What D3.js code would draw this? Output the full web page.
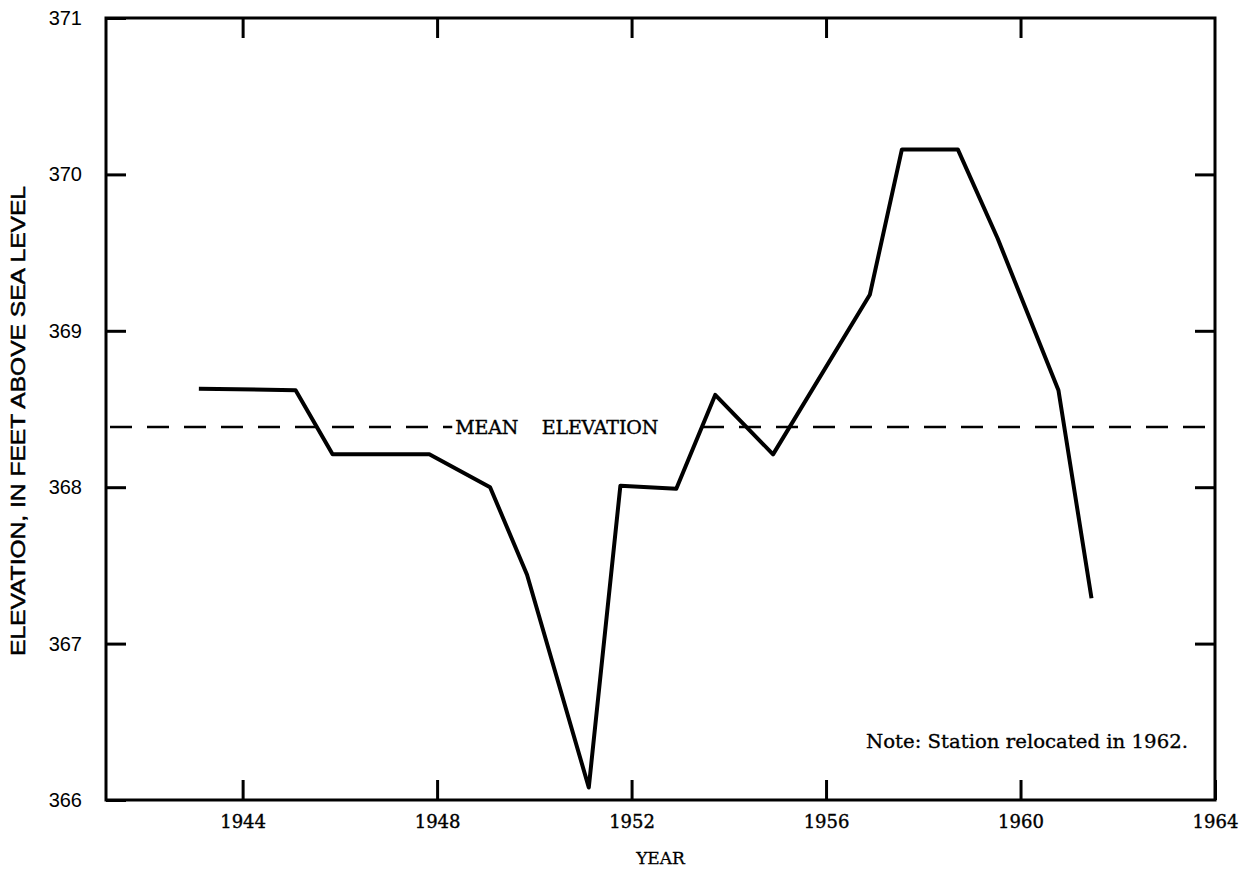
<!DOCTYPE html>
<html>
<head>
<meta charset="utf-8">
<script src="https://cdn.jsdelivr.net/npm/d3@7"></script>
<style>
  body { margin: 0; background: #fff; }
  .axis text { font-family: "DejaVu Serif", serif; fill: #000; }
  .axis path { display: none; }
  .axis line { stroke: #000; stroke-width: 3; }
</style>
</head>
<body>
<svg id="chart"></svg>
<script>
// values
const years = [1943.1, 1945.09, 1945.85, 1947.84, 1949.09, 1949.85, 1951.12, 1951.77,
               1952.92, 1953.72, 1954.91, 1956.9, 1957.56, 1958.71, 1959.53, 1960.78, 1961.46];
const elevations = [368.63, 368.62, 368.21, 368.21, 368.0, 367.44, 366.08, 368.01,
                    367.99, 368.59, 368.21, 369.23, 370.16, 370.16, 369.59, 368.62, 367.29];
const meanElevation = 368.385;
const xTicks = [1944, 1948, 1952, 1956, 1960, 1964];
const yTicks = [366, 367, 368, 369, 370, 371];

const data = years.map((y, i) => ({ year: y, elev: elevations[i] }));

const W = 1248, H = 874;
const margin = { top: 18, right: 33, bottom: 74, left: 106 };
const width = W - margin.left - margin.right;
const height = H - margin.top - margin.bottom;

const svg = d3.select('#chart').attr('width', W).attr('height', H);
const chart = svg.append('g').attr('transform', `translate(${margin.left},${margin.top})`);

const xScale = d3.scaleLinear().domain([1941.19, 1964]).range([0, width]);
const yScale = d3.scaleLinear().domain([366, 371]).range([height, 0]);

// inward ticks on all four sides
chart.append('g').attr('class', 'axis')
    .attr('transform', `translate(0,${height})`)
    .call(d3.axisBottom(xScale).tickValues(xTicks).tickFormat(d3.format('d'))
        .tickSizeInner(-20).tickSizeOuter(0).tickPadding(12))
    .selectAll('text').style('font-size', '18px').attr('dy', '0.9em')
        .attr('stroke', '#000').attr('stroke-width', 0.4);

chart.append('g').attr('class', 'axis')
    .call(d3.axisTop(xScale).tickValues(xTicks.slice(0, -1)).tickFormat('')
        .tickSizeInner(-20).tickSizeOuter(0));

chart.append('g').attr('class', 'axis')
    .call(d3.axisLeft(yScale).tickValues(yTicks).tickFormat(d3.format('d'))
        .tickSizeInner(-20).tickSizeOuter(0).tickPadding(24))
    .selectAll('text')
        .style('font-family', '"Liberation Sans", sans-serif')
        .style('font-size', '20px');

chart.append('g').attr('class', 'axis')
    .attr('transform', `translate(${width},0)`)
    .call(d3.axisRight(yScale).tickValues(yTicks.slice(1, -1)).tickFormat('')
        .tickSizeInner(-20).tickSizeOuter(0));

// frame
chart.append('rect')
    .attr('width', width).attr('height', height)
    .attr('fill', 'none').attr('stroke', '#000').attr('stroke-width', 3);

// mean elevation dashed line with label gap
chart.append('line')
    .attr('x1', 4).attr('x2', width)
    .attr('y1', yScale(meanElevation)).attr('y2', yScale(meanElevation))
    .attr('stroke', '#000').attr('stroke-width', 2.5)
    .attr('stroke-dasharray', '22,15');

const meanLabel = chart.append('g');
const bg = meanLabel.append('rect').attr('fill', '#fff');
const mt = meanLabel.append('text')
    .attr('x', xScale(1948.25) + 6)
    .attr('y', yScale(meanElevation))
    .attr('dy', '0.35em')
    .attr('textLength', 203)
    .attr('stroke', '#000').attr('stroke-width', 0.4)
    .style('font-family', '"DejaVu Serif", serif')
    .style('font-size', '19px')
    .attr('xml:space', 'preserve')
    .text('MEAN    ELEVATION');
const bb = mt.node().getBBox();
bg.attr('x', bb.x - 3).attr('y', bb.y).attr('width', bb.width + 32).attr('height', bb.height);

// data line
const line = d3.line().x(d => xScale(d.year)).y(d => yScale(d.elev));
chart.append('path')
    .datum(data)
    .attr('d', line)
    .attr('fill', 'none')
    .attr('stroke', '#000')
    .attr('stroke-width', 4)
    .attr('stroke-linejoin', 'round');

// note
chart.append('text')
    .attr('x', width - 27)
    .attr('y', yScale(366.33))
    .attr('text-anchor', 'end')
    .attr('textLength', 322)
    .attr('lengthAdjust', 'spacingAndGlyphs')
    .attr('stroke', '#000').attr('stroke-width', 0.3)
    .style('font-family', '"DejaVu Serif", serif')
    .style('font-size', '18px')
    .text('Note:  Station relocated in 1962.');

// axis titles
svg.append('text')
    .attr('x', margin.left + width / 2)
    .attr('y', 864)
    .attr('text-anchor', 'middle')
    .attr('stroke', '#000').attr('stroke-width', 0.3)
    .style('font-family', '"DejaVu Serif", serif')
    .style('font-size', '17px')
    .text('YEAR');

svg.append('text')
    .attr('transform', `translate(25,${margin.top + height / 2 + 12}) rotate(-90)`)
    .attr('text-anchor', 'middle')
    .attr('textLength', 470)
    .attr('lengthAdjust', 'spacingAndGlyphs')
    .attr('stroke', '#000').attr('stroke-width', 0.5)
    .style('font-family', '"Liberation Sans", sans-serif')
    .style('font-size', '20px')
    .text('ELEVATION, IN FEET ABOVE SEA LEVEL');
</script>
</body>
</html>
